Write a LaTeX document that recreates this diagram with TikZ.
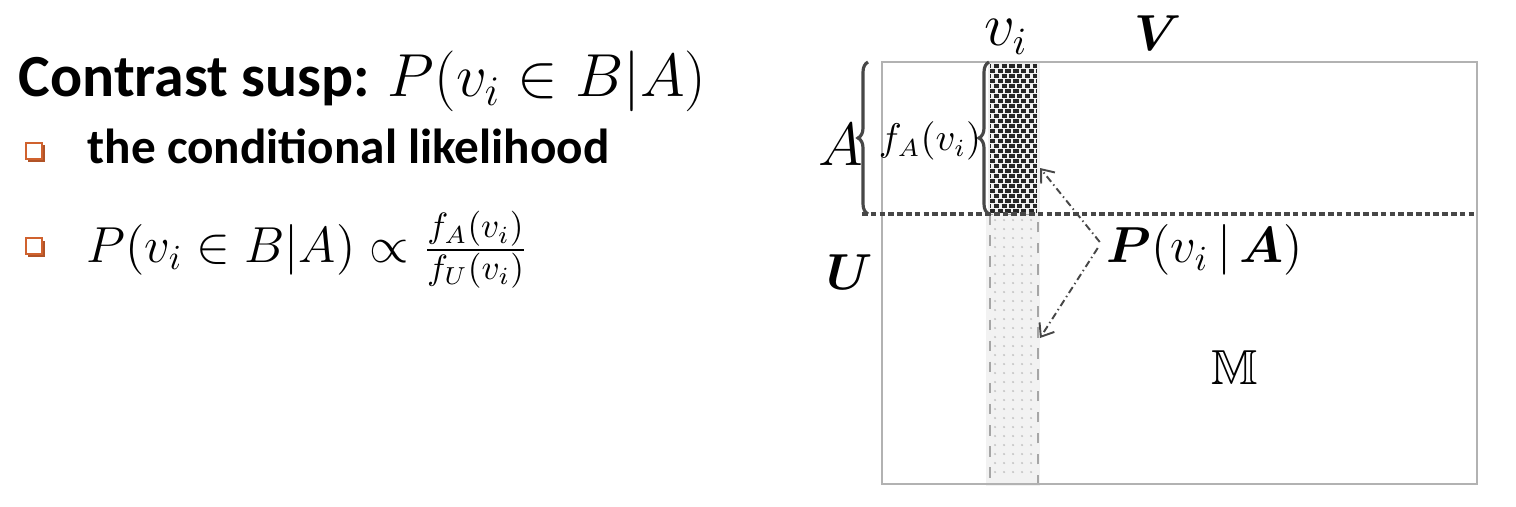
\documentclass[tikz,border=0pt]{standalone}
\usepackage{amsmath,amssymb}
\usepackage{fontspec}
\setmainfont{Liberation Serif}
\setsansfont{Carlito}
\usetikzlibrary{decorations.pathreplacing,arrows.meta,shadows}
\definecolor{bulletorange}{HTML}{D0622E}
\definecolor{darkline}{HTML}{474747}
\tikzstyle{bulletbox} = [draw=bulletorange, fill=white, line width=0.8pt, minimum size=0.16cm, inner sep=0pt,
    drop shadow={shadow xshift=0.025cm, shadow yshift=-0.025cm, fill=bulletorange!85!black, opacity=1}]
\tikzstyle{brace} = [decorate, decoration={brace, amplitude=0.1cm}, draw=darkline, line width=0.9pt]
\tikzstyle{pointer} = [draw=darkline, line width=0.55pt, dash pattern=on 2pt off 1pt on 0.4pt off 1pt, -{Straight Barb[length=3.2pt, width=5pt]}]

\begin{document}
\begin{tikzpicture}[x=0.01cm, y=-0.01cm]
    \useasboundingbox (0,0) rectangle (1516,506);

    % left text
    \node (title) [anchor=base west, inner sep=0pt, font=\sffamily\bfseries\fontsize{17}{20}\selectfont] at (18,96) {Contrast susp: $P(v_i \in B|A)$};
    \node (bulleta) [bulletbox] at (34,151) {};
    \node (cond) [anchor=base west, inner sep=0pt, font=\sffamily\bfseries\fontsize{14}{17}\selectfont] at (87,163) {the conditional likelihood};
    \node (bulletb) [bulletbox] at (34,246) {};
    \node (ratio) [anchor=west, inner sep=0pt, font=\fontsize{13.6}{16}\selectfont] at (86,250) {$P(v_i \in B|A) \propto \frac{f_A(v_i)}{f_U(v_i)}$};

    % matrix
    \fill[gray!10] (986,214) rectangle (1040,486);
    \foreach \y in {220,229,...,480}
        \foreach \x in {995,1004,...,1035}
            \fill[gray!45] (\x,\y) circle (0.35pt);
    \draw[gray!70, line width=0.3pt, dashed] (990,214) rectangle (1038,484);
    \fill[gray!12] (988,62) rectangle (1040,214);
    \foreach \y [count=\k] in {66,71,...,211} {
        \pgfmathsetmacro\ph{mod(\k,2)*1.1}
        \draw[black!85, line width=0.9pt, dash pattern=on 1.5pt off 0.7pt, dash phase=\ph pt] (990,\y) -- (1037,\y);
    }
    \draw[gray!60, line width=0.35pt] (882,62) rectangle (1477,484);
    \draw[darkline, line width=0.9pt, dash pattern=on 1.6pt off 0.9pt] (862,214) -- (1477,214);

    % braces
    \draw[brace] (868,214) -- (868,62);
    \draw[brace] (989,214) -- (989,62);

    % labels
    \node (vi) [inner sep=0pt] at (1006,37) {\fontsize{16}{19}\selectfont$v_i$};
    \node (V) [inner sep=0pt] at (1158,33) {\fontsize{15}{18}\selectfont$\boldsymbol{V}$};
    \node (A) [inner sep=0pt] at (841,145) {\fontsize{16}{19}\selectfont$A$};
    \node (fA) [inner sep=0pt] at (930,141) {\fontsize{10.5}{13}\selectfont$f_A(v_i)$};
    \node (U) [inner sep=0pt] at (850,272) {\fontsize{15}{18}\selectfont$\boldsymbol{U}$};
    \node (P) [inner sep=1pt] at (1205,250) {\fontsize{14}{17}\selectfont$\boldsymbol{P}(v_i\,|\,\boldsymbol{A})$};
    \node (M) [inner sep=0pt] at (1235,368) {\fontsize{14}{17}\selectfont$\mathbb{M}$};

    % arrows
    \coordinate (top) at (1040,168);
    \coordinate (bottom) at (1040,338);
    \draw[pointer] ([xshift=-0.03cm, yshift=0.08cm]P.west) -- (top);
    \draw[pointer] ([xshift=-0.05cm, yshift=0.02cm]P.west) -- (bottom);
\end{tikzpicture}
\end{document}
